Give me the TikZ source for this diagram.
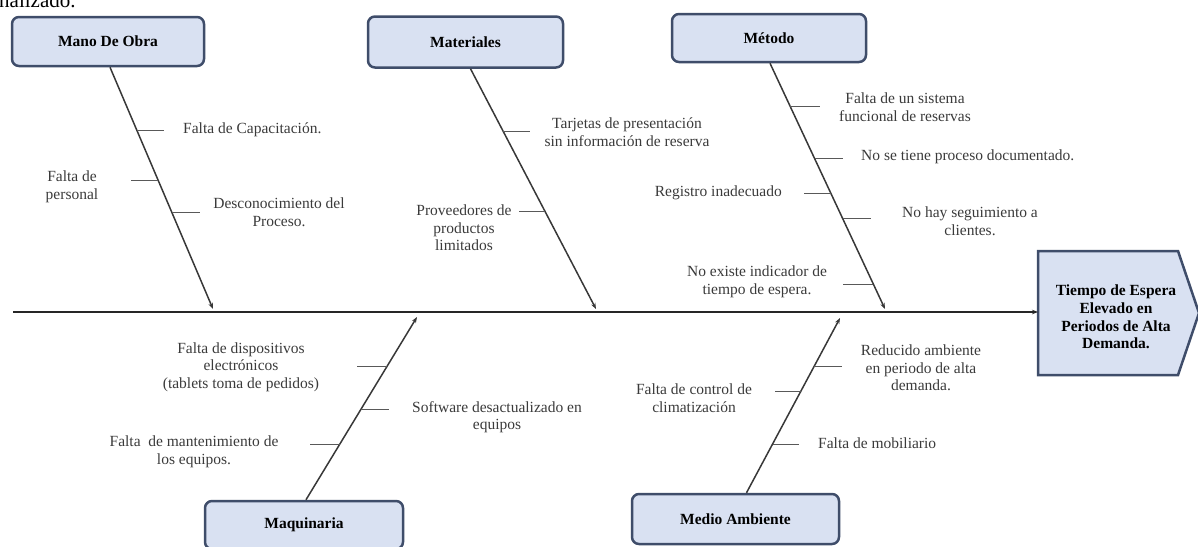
\documentclass[tikz,border=0pt]{standalone}
\usepackage{fontspec}
\setmainfont{Liberation Serif}
\usetikzlibrary{arrows.meta,calc}
\definecolor{boxfill}{HTML}{D9E1F2}
\definecolor{boxline}{HTML}{3F4D6A}
\definecolor{txt}{HTML}{3A3A3A}
\begin{document}
\begin{tikzpicture}[x=1pt,y=-1pt,
  catbox/.style={draw=boxline, fill=boxfill, line width=2.5pt, rounded corners=7pt,
    font=\fontsize{15.5}{17.5}\selectfont\bfseries, inner sep=0pt, align=center},
  bone/.style={draw=black!78, line width=1.5pt, -{Stealth[length=6pt,width=4.5pt]}},
  spine/.style={draw=black!85, line width=2pt, -{Stealth[length=6pt,width=4.5pt]}},
  tickln/.style={draw=black!65, line width=0.9pt},
  cause/.style={font=\fontsize{15.5}{17.5}\selectfont, text=txt, align=center, inner sep=0pt}]
\useasboundingbox (0,0) rectangle (1198,546);

% fragment of text above the figure
\node[anchor=base west, inner sep=0pt, font=\fontsize{21}{25}\selectfont] (frag) at (-1,7) {nalizado.};

% category boxes
\node[catbox, minimum width=192, minimum height=49] (mo) at (108,41.5) {Mano De Obra};
\node[catbox, minimum width=195, minimum height=51] (mat) at (465.5,42) {Materiales};
\node[catbox, minimum width=194, minimum height=48] (met) at (769,38) {Método};
\node[catbox, minimum width=198, minimum height=48] (maq) at (304,525) {Maquinaria};
\node[catbox, minimum width=207, minimum height=50] (ma) at (735.5,519) {Medio Ambiente};

% effect
\draw[draw=boxline, fill=boxfill, line width=2.5pt]
  (1038,251) -- (1178,251) -- (1199,313) -- (1178,375) -- (1038,375) -- cycle;
\node[cause, font=\fontsize{15.5}{17.7}\selectfont\bfseries, text=black] (ef) at (1116,317)
  {Tiempo de Espera\\Elevado en\\Periodos de Alta\\Demanda.};
\coordinate (efw) at (1038,312);
\coordinate (spL) at (13,312);
\draw[spine] (spL) -- (efw);

% bone tips
\coordinate (motip) at (213,309);
\coordinate (mattip) at (596,309);
\coordinate (mettip) at (885,309);
\coordinate (maqtip) at (417,317);
\coordinate (matip) at (840,318);

\draw[bone] ([xshift=2pt]mo.south) -- (motip);
\draw[bone] ([xshift=5pt]mat.south) -- (mattip);
\draw[bone] ([xshift=1pt]met.south) -- (mettip);
\draw[bone] ([xshift=2pt]maq.north) -- (maqtip);
\draw[bone] ([xshift=11pt]ma.north) -- (matip);

% points on bones
\path ([xshift=2pt]mo.south) -- (motip)
  coordinate[pos=0.263] (mo1) coordinate[pos=0.469] (mo2) coordinate[pos=0.601] (mo3);
\path ([xshift=5pt]mat.south) -- (mattip)
  coordinate[pos=0.261] (mat1) coordinate[pos=0.593] (mat2);
\path ([xshift=1pt]met.south) -- (mettip)
  coordinate[pos=0.174] (met1) coordinate[pos=0.389] (met2) coordinate[pos=0.530] (met3)
  coordinate[pos=0.632] (met4) coordinate[pos=0.899] (met5);
\path ([xshift=2pt]maq.north) -- (maqtip)
  coordinate[pos=0.730] (maq1) coordinate[pos=0.495] (maq2) coordinate[pos=0.304] (maq3);
\path ([xshift=11pt]ma.north) -- (matip)
  coordinate[pos=0.722] (ma1) coordinate[pos=0.580] (ma2) coordinate[pos=0.278] (ma3);

% Mano de obra causes
\node[cause, anchor=west] (mo1t) at (183,130) {Falta de Capacitación.};
\node[cause] (mo2t) at (72,187) {Falta de\\personal};
\node[cause] (mo3t) at (279,212) {Desconocimiento del\\Proceso.};
\draw[tickln] (mo1) -- ++(27,0);
\draw[tickln] (mo2) -- ++(-27,0);
\draw[tickln] (mo3) -- ++(28,0);

% Materiales causes
\node[cause] (mat1t) at (627,132) {Tarjetas de presentación\\sin información de reserva};
\node[cause] (mat2t) at (464,228) {Proveedores de\\productos\\limitados};
\draw[tickln] (mat1) -- ++(27,0);
\draw[tickln] (mat2) -- ++(-26,0);

% Metodo causes
\node[cause] (met1t) at (905,107) {Falta de un sistema\\funcional de reservas};
\node[cause, anchor=west] (met2t) at (861,157) {No se tiene proceso documentado.};
\node[cause, anchor=east] (met3t) at (782,193) {Registro inadecuado};
\node[cause] (met4t) at (970,221) {No hay seguimiento a\\clientes.};
\node[cause] (met5t) at (757,282) {No existe indicador de\\tiempo de espera.};
\draw[tickln] (met1) -- ++(30,0);
\draw[tickln] (met2) -- ++(28,0);
\draw[tickln] (met3) -- ++(-27,0);
\draw[tickln] (met4) -- ++(28,0);
\draw[tickln] (met5) -- ++(-30,0);

% Maquinaria causes
\node[cause] (maq1t) at (241,367) {Falta de dispositivos\\electrónicos\\(tablets toma de pedidos)};
\node[cause] (maq2t) at (497,417) {Software desactualizado en\\equipos};
\node[cause] (maq3t) at (194,452) {Falta\ \ de mantenimiento de\\los equipos.};
\draw[tickln] (maq1) -- ++(-30,0);
\draw[tickln] (maq2) -- ++(28,0);
\draw[tickln] (maq3) -- ++(-30,0);

% Medio ambiente causes
\node[cause] (ma1t) at (921,368) {Reducido ambiente\\en periodo de alta\\demanda.};
\node[cause] (ma2t) at (694,398) {Falta de control de\\climatización};
\node[cause, anchor=west] (ma3t) at (818,443) {Falta de mobiliario};
\draw[tickln] (ma1) -- ++(28,0);
\draw[tickln] (ma2) -- ++(-26,0);
\draw[tickln] (ma3) -- ++(26,0);
\end{tikzpicture}
\end{document}
